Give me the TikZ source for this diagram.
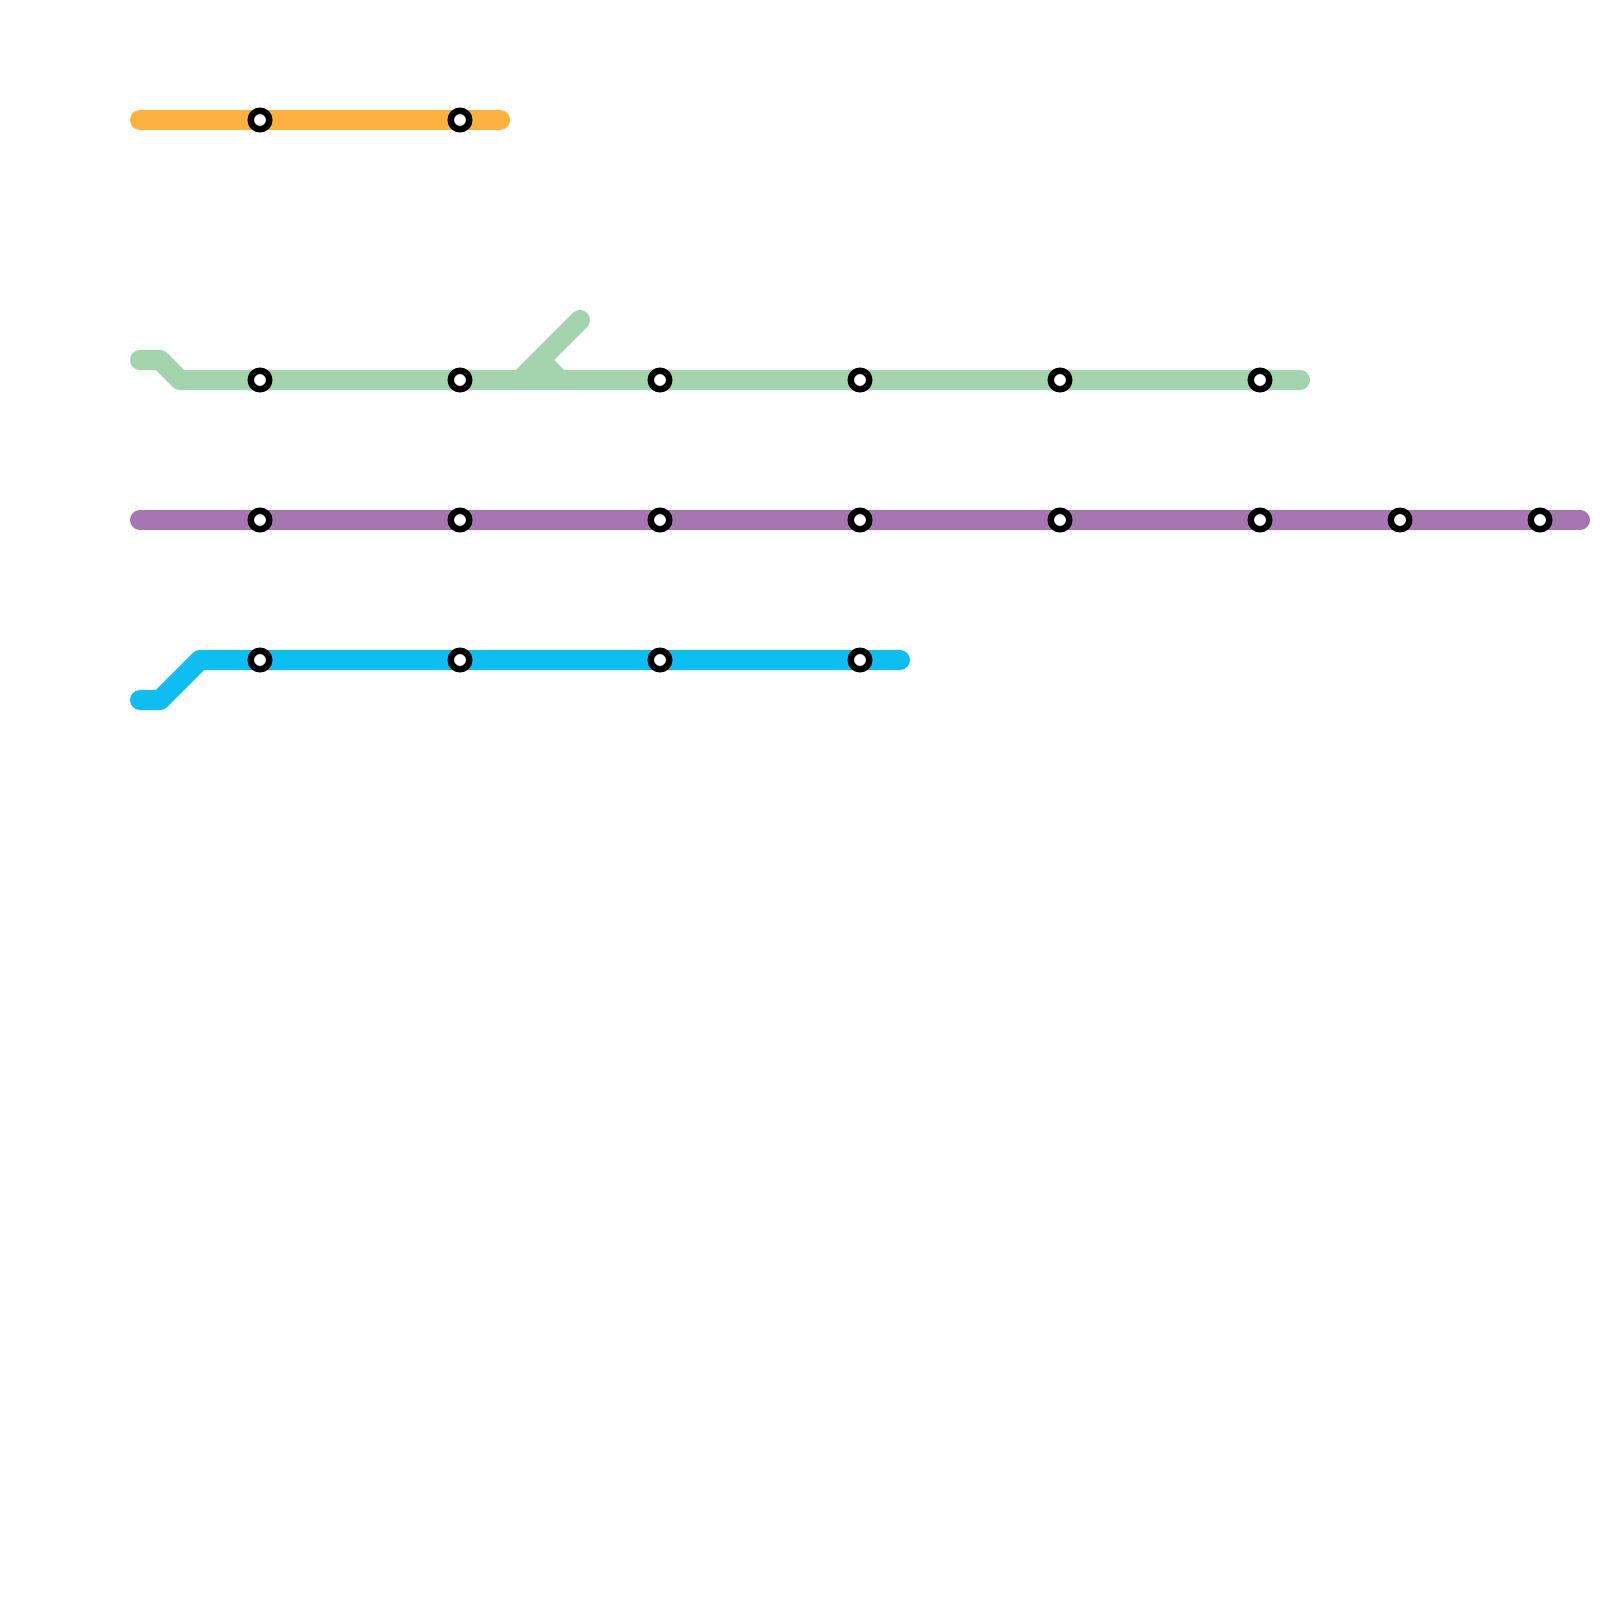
\documentclass[tikz,border=0pt]{standalone}
\definecolor{lineorange}{HTML}{FBB040}
\definecolor{linegreen}{HTML}{A3D4AD}
\definecolor{linepurple}{HTML}{A676B2}
\definecolor{lineblue}{HTML}{0FBEF0}
\begin{document}
\begin{tikzpicture}[x=0.01cm, y=-0.01cm]
  \tikzset{
    metro/.style={line width=0.2cm, line cap=round, line join=round},
    stop/.style={circle, draw=black, fill=white, line width=0.064cm, inner sep=0pt,
                 outer sep=0pt, minimum size=0.185cm},
  }
  \useasboundingbox (0,0) rectangle (1600,1600);
  % Line ends and bends
  \coordinate (oa) at (140,120);
  \coordinate (ob) at (500,120);
  \coordinate (ga) at (140,360);
  \coordinate (gb) at (160,360);
  \coordinate (gc) at (180,380);
  \coordinate (gd) at (1300,380);
  \coordinate (ge) at (520,380);
  \coordinate (gf) at (580,320);
  \coordinate (gg) at (540,360);
  \coordinate (gh) at (560,380);
  \coordinate (pa) at (140,520);
  \coordinate (pb) at (1580,520);
  \coordinate (ba) at (140,700);
  \coordinate (bb) at (160,700);
  \coordinate (bc) at (200,660);
  \coordinate (bd) at (900,660);
  % Lines
  \draw[metro, lineorange] (oa) -- (ob);
  \draw[metro, linegreen]  (ga) -- (gb) -- (gc) -- (gd);
  \draw[metro, linegreen]  (ge) -- (gf);
  \draw[metro, linegreen]  (gg) -- (gh);
  \draw[metro, linepurple] (pa) -- (pb);
  \draw[metro, lineblue]   (ba) -- (bb) -- (bc) -- (bd);
  % Stops
  \foreach \x/\n in {260/1,460/2}
    \node[stop] (o\n) at (\x,120) {};
  \foreach \x/\n in {260/1,460/2,660/3,860/4,1060/5,1260/6}
    \node[stop] (g\n) at (\x,380) {};
  \foreach \x/\n in {260/1,460/2,660/3,860/4,1060/5,1260/6,1400/7,1540/8}
    \node[stop] (p\n) at (\x,520) {};
  \foreach \x/\n in {260/1,460/2,660/3,860/4}
    \node[stop] (b\n) at (\x,660) {};
\end{tikzpicture}
\end{document}
